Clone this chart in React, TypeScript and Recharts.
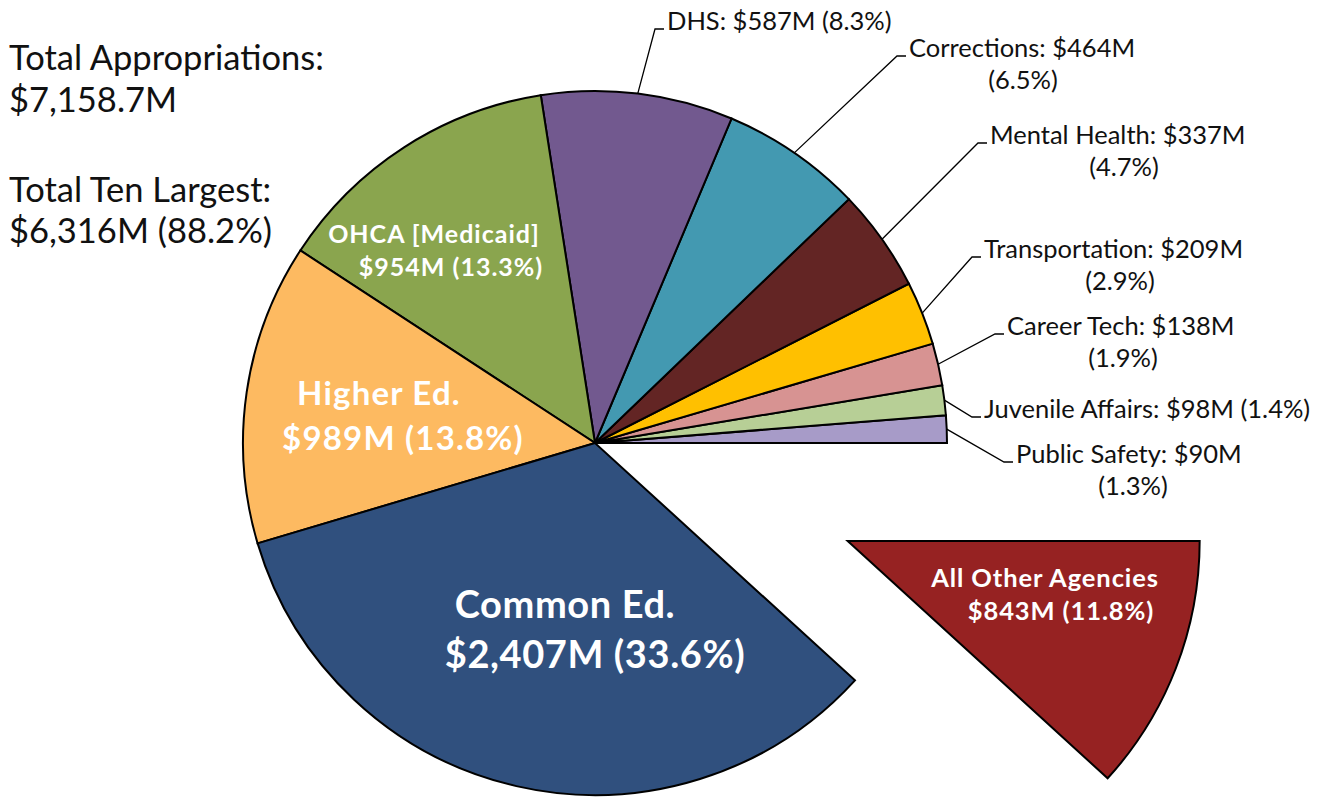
import React from "react";
import { PieChart, Pie, Cell } from "recharts";

// slices run counter-clockwise from 3 o'clock
const agencies = [
  "Public Safety",
  "Juvenile Affairs",
  "Career Tech",
  "Transportation",
  "Mental Health",
  "Corrections",
  "DHS",
  "OHCA [Medicaid]",
  "Higher Ed.",
  "Common Ed.",
  "All Other Agencies",
];
// $M, as drawn (the DHS wedge is drawn larger than its printed label)
const values = [90, 98, 138, 209, 337, 464, 630, 954, 989, 2407, 843];
const amountLabels = ["$90M", "$98M", "$138M", "$209M", "$337M", "$464M", "$587M", "$954M", "$989M", "$2,407M", "$843M"];
const shareLabels = ["1.3%", "1.4%", "1.9%", "2.9%", "4.7%", "6.5%", "8.3%", "13.3%", "13.8%", "33.6%", "11.8%"];
const colors = [
  "#A79BC8",
  "#B7CF96",
  "#D79392",
  "#FFC000",
  "#632524",
  "#4399B1",
  "#72598F",
  "#8AA54E",
  "#FDBA61",
  "#30507E",
  "#962222",
];

const totalLines = ["Total Appropriations:", "$7,158.7M"];
const tenLargestLines = ["Total Ten Largest:", "$6,316M (88.2%)"];

const W = 1323;
const H = 798;
const CX = 595;
const CY = 443;
const R = 352;
const EXPLODE = 271;
const RAD = Math.PI / 180;
const FONT = "Lato, 'Noto Sans', sans-serif";

const data = agencies.map((name, i) => ({ name, value: values[i] }));
const total = values.reduce((a, b) => a + b, 0);
const otherIdx = values.length - 1;
const otherMid = 360 - (values[otherIdx] / total) * 180;
const OX = CX + EXPLODE * Math.cos(otherMid * RAD);
const OY = CY - EXPLODE * Math.sin(otherMid * RAD);

// outside labels: bend point of the leader, centre of 2nd line (null = one line)
const outside: Record<number, { bx: number; by: number; c2: number | null }> = {
  0: { bx: 1004, by: 462, c2: 1133 },
  1: { bx: 972, by: 417, c2: null },
  2: { bx: 995, by: 334, c2: 1123 },
  3: { bx: 972, by: 257, c2: 1120 },
  4: { bx: 978, by: 143, c2: 1124 },
  5: { bx: 897, by: 56, c2: 1023 },
  6: { bx: 655, by: 29, c2: null },
};

// inside labels: centres / baselines of the two lines, font size, tracking
const inside: Record<number, { x1: number; y1: number; x2: number; y2: number; size: number; ls: number }> = {
  7: { x1: 434, y1: 243, x2: 451, y2: 276, size: 25, ls: 1 },
  8: { x1: 379, y1: 405, x2: 403, y2: 450, size: 33, ls: 1.2 },
  9: { x1: 565, y1: 618, x2: 595, y2: 668, size: 38, ls: 0.6 },
  10: { x1: 1045, y1: 587, x2: 1061, y2: 620, size: 25.5, ls: 0.9 },
};

function midOf(p: any) {
  if (typeof p.midAngle === "number") return p.midAngle;
  return (p.startAngle + p.endAngle) / 2;
}

function InsideLabel({ i }: { i: number }) {
  const l = inside[i];
  const style = { fontFamily: FONT, fontWeight: 700, fontSize: l.size, fill: "#fff", letterSpacing: l.ls };
  return (
    <g>
      <text x={l.x1} y={l.y1} textAnchor="middle" style={style}>
        {agencies[i]}
      </text>
      <text x={l.x2} y={l.y2} textAnchor="middle" style={style}>
        {`${amountLabels[i]} (${shareLabels[i]})`}
      </text>
    </g>
  );
}

function renderMainLabel(p: any) {
  const i = p.index;
  if (inside[i] && i !== otherIdx) return <InsideLabel i={i} />;
  const o = outside[i];
  if (!o) return <g />;
  const a = midOf(p) * RAD;
  const sx = p.cx + p.outerRadius * Math.cos(a);
  const sy = p.cy - p.outerRadius * Math.sin(a);
  const style = { fontFamily: FONT, fontSize: 25.5, fill: "#111" };
  return (
    <g>
      <polyline
        points={`${sx},${sy} ${o.bx},${o.by} ${o.bx + 9},${o.by}`}
        fill="none"
        stroke="#000"
        strokeWidth={1.3}
      />
      {o.c2 === null ? (
        <text x={o.bx + 12} y={o.by + 1} style={style}>
          {`${agencies[i]}: ${amountLabels[i]} (${shareLabels[i]})`}
        </text>
      ) : (
        <>
          <text x={o.bx + 12} y={o.by + 1} style={style}>
            {`${agencies[i]}: ${amountLabels[i]}`}
          </text>
          <text x={o.c2} y={o.by + 33} textAnchor="middle" style={style}>
            {`(${shareLabels[i]})`}
          </text>
        </>
      )}
    </g>
  );
}

function renderOtherLabel(p: any) {
  if (p.index !== otherIdx) return <g />;
  return <InsideLabel i={otherIdx} />;
}

export default function App() {
  const headStyle = { fontFamily: FONT, fontSize: 34.5, fill: "#111" };
  return (
    <div style={{ position: "absolute", left: 0, top: 0, width: W, height: H, background: "#fff" }}>
      <PieChart width={W} height={H} margin={{ top: 0, right: 0, bottom: 0, left: 0 }}>
        <Pie
          data={data}
          dataKey="value"
          nameKey="name"
          cx={CX}
          cy={CY}
          outerRadius={R}
          startAngle={0}
          endAngle={360}
          stroke="#000"
          strokeWidth={2}
          label={renderMainLabel}
          labelLine={false}
          isAnimationActive={false}
        >
          {data.map((d, i) => (
            <Cell
              key={d.name}
              fill={i === otherIdx ? "none" : colors[i]}
              stroke={i === otherIdx ? "none" : "#000"}
            />
          ))}
        </Pie>
        <Pie
          data={data}
          dataKey="value"
          nameKey="name"
          cx={OX}
          cy={OY}
          outerRadius={R}
          startAngle={0}
          endAngle={360}
          stroke="#000"
          strokeWidth={2}
          label={renderOtherLabel}
          labelLine={false}
          isAnimationActive={false}
        >
          {data.map((d, i) => (
            <Cell
              key={d.name}
              fill={i === otherIdx ? colors[i] : "none"}
              stroke={i === otherIdx ? "#000" : "none"}
            />
          ))}
        </Pie>
      </PieChart>
      <svg width={W} height={H} style={{ position: "absolute", left: 0, top: 0, pointerEvents: "none" }}>
        <text x={9} y={70} style={headStyle}>{totalLines[0]}</text>
        <text x={9} y={112} style={headStyle}>{totalLines[1]}</text>
        <text x={9} y={202} style={headStyle}>{tenLargestLines[0]}</text>
        <text x={9} y={243} style={headStyle}>{tenLargestLines[1]}</text>
      </svg>
    </div>
  );
}
